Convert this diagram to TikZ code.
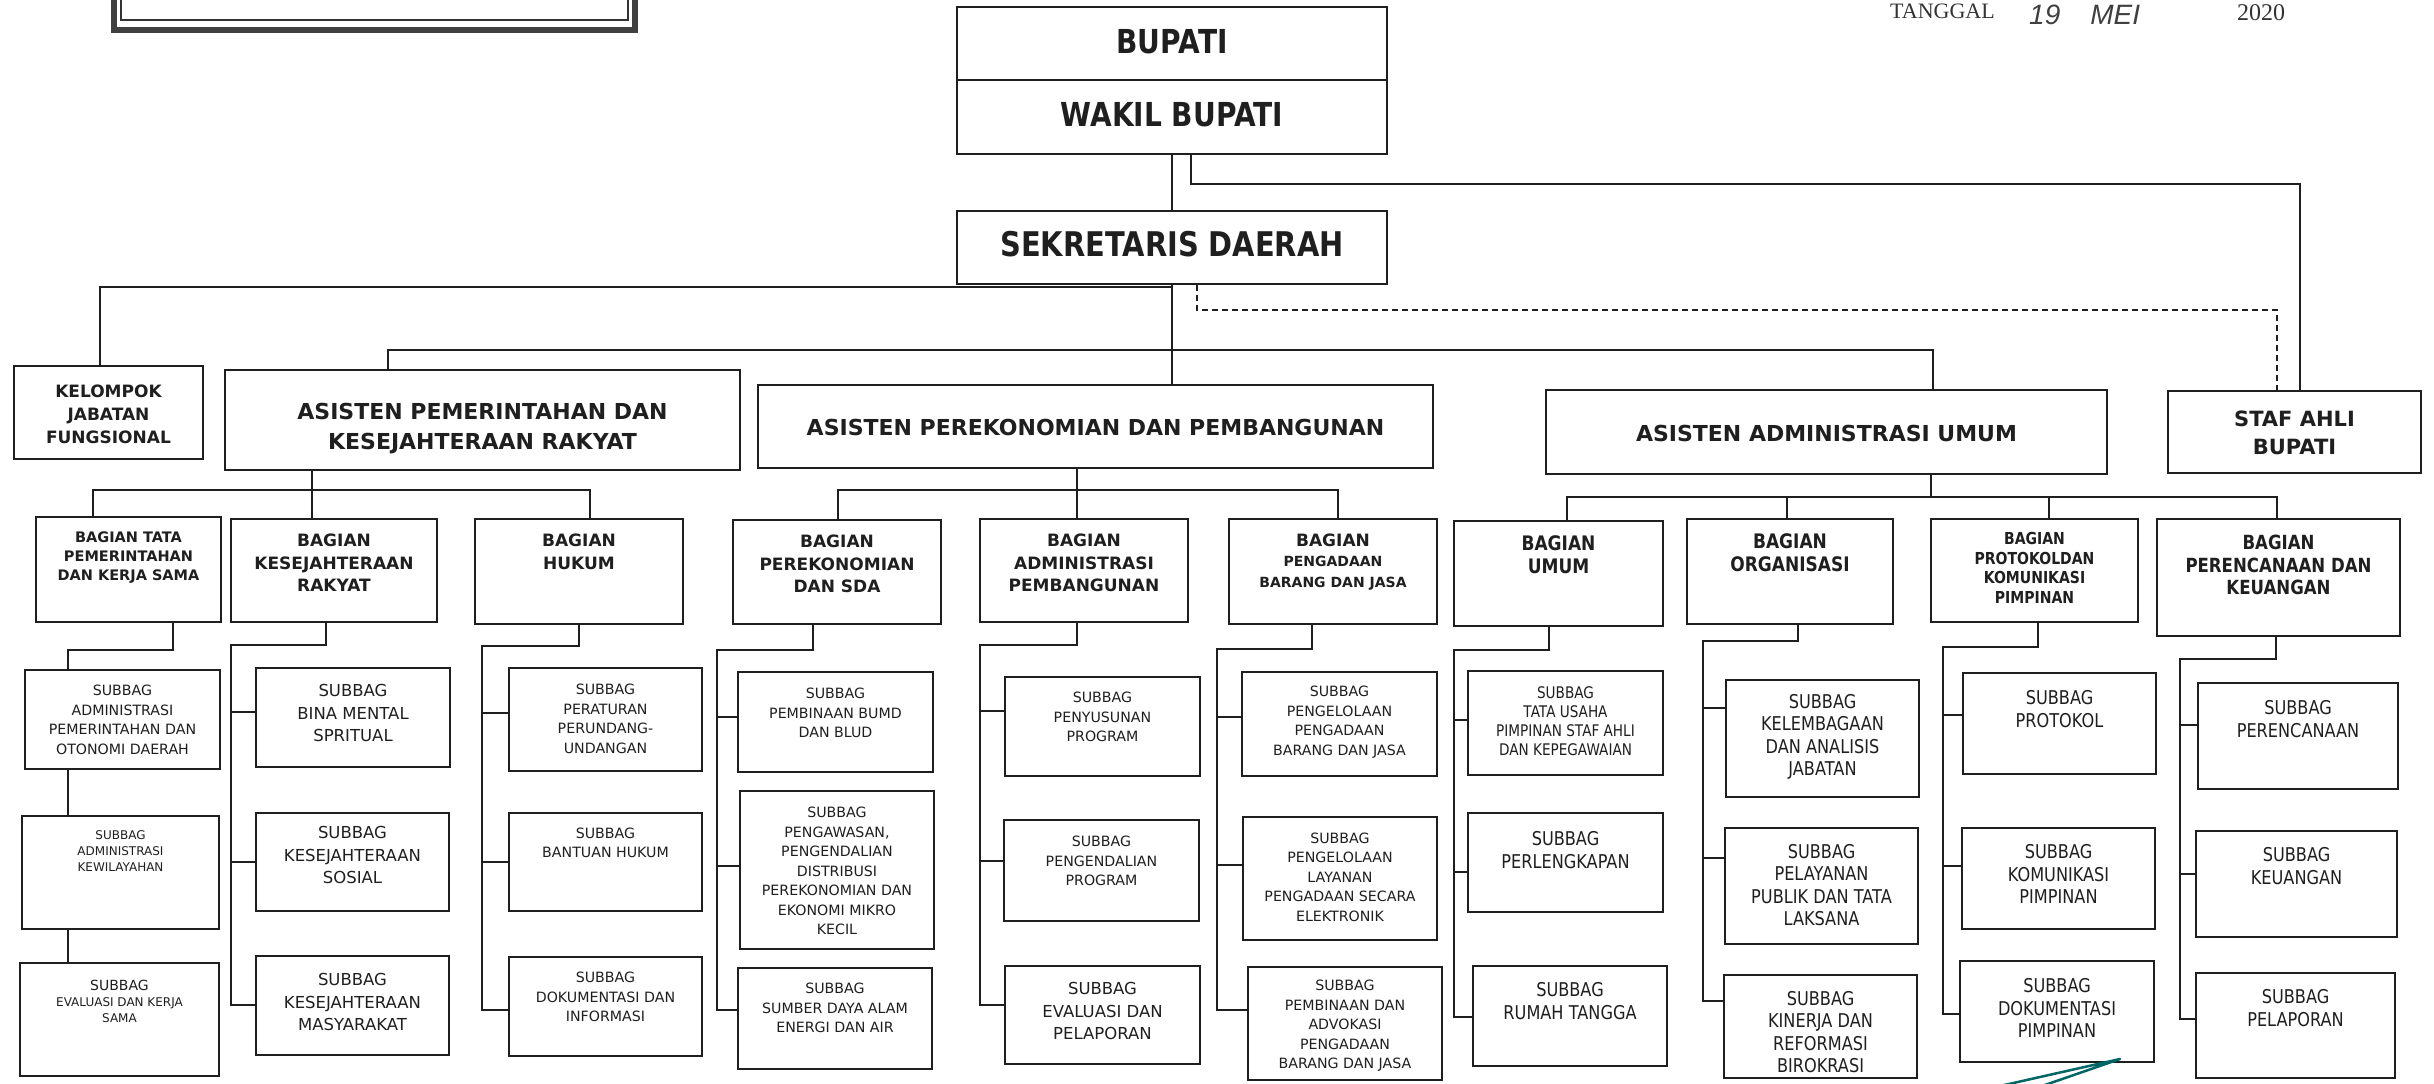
\documentclass[tikz,border=0pt]{standalone}
\usepackage{fontspec}
\setmainfont{DejaVu Sans}
\newfontfamily\condf[FakeStretch=0.85]{DejaVu Sans}
\newfontfamily\serf{Liberation Serif}
\newfontfamily\handf{Liberation Sans}
\tikzset{
  obx/.style={draw=black!88, line width=2pt, inner sep=0pt, rectangle},
  con/.style={draw=black!88, line width=1.8pt},
  dcon/.style={draw=black!88, line width=1.8pt, dash pattern=on 6pt off 4pt},
  tx/.style={align=center, inner sep=0pt, text=black!88},
  topf/.style={font=\condf\bfseries\fontsize{33}{40}\selectfont},
  sekf/.style={font=\condf\bfseries\fontsize{34}{40}\selectfont},
  kelf/.style={font=\bfseries\fontsize{17}{23}\selectfont},
  asf/.style={font=\bfseries\fontsize{22}{30}\selectfont},
  staff/.style={font=\bfseries\fontsize{21}{28}\selectfont},
  bgf/.style={font=\bfseries\fontsize{17}{22.5}\selectfont},
  bgs/.style={font=\bfseries\fontsize{14.5}{19}\selectfont},
  bgp/.style={font=\bfseries\fontsize{14}{20.5}\selectfont},
  bgc/.style={font=\condf\bfseries\fontsize{20}{23}\selectfont},
  bgcs/.style={font=\condf\bfseries\fontsize{16.5}{19.5}\selectfont},
  bgcp/.style={font=\condf\bfseries\fontsize{19.5}{22.5}\selectfont},
  sbf/.style={font=\fontsize{14.2}{19.5}\selectfont},
  sbl/.style={font=\fontsize{16.5}{22.5}\selectfont},
  sbs/.style={font=\fontsize{12}{16}\selectfont},
  sbc/.style={font=\condf\fontsize{19}{22.5}\selectfont},
  sbcs/.style={font=\condf\fontsize{16}{19}\selectfont}
}
% name, x1, y1, x2, y2, text-centre-y, text style, text
\newcommand\obox[8]{%
  \node[obx, minimum width={(#4-#2)*1pt}, minimum height={(#5-#3)*1pt}] (#1) at ({(#2+#4)/2},{(#3+#5)/2}) {};
  \node[tx,#7] (#1t) at ({(#2+#4)/2},#6) {#8};
}
% parent, drop x, bend y, trunk x, trunk end y
\newcommand\trunk[5]{%
  \coordinate (#1-j) at (#2,#3); \coordinate (#1-k) at (#4,#3); \coordinate (#1-e) at (#4,#5);
  \draw[con, line join=miter] (#1.south -| #1-j) -- (#1-j) -- (#1-k) -- (#1-e);
}
% child, trunk x, y
\newcommand\branch[3]{%
  \coordinate (#1-b) at (#2,#3); \draw[con] ([xshift=-0.9pt]#1-b) -- (#1.west |- #1-b);
}
\begin{document}
\begin{tikzpicture}[x=1pt, y=-1pt]
\useasboundingbox (0,0) rectangle (2434,1084);
\fill[white] (0,0) rectangle (2434,1084);

% decorative frame at top left
\draw[line width=6pt, black!75] (114,-40) -- (114,30) -- (635,30) -- (635,-40);
\draw[line width=2pt, black!80] (121,-40) -- (121,20) -- (628,20) -- (628,-40);

% date
\node[anchor=base west, inner sep=0pt, font=\serf\fontsize{22}{22}\selectfont, text=black!80] (tgl) at (1890,19) {TANGGAL};
\node[anchor=base west, inner sep=0pt, font=\handf\itshape\fontsize{28}{28}\selectfont, text=black!75] (tglh) at (2029,24) {19\hspace{30pt}MEI};
\node[anchor=base west, inner sep=0pt, font=\serf\fontsize{24}{24}\selectfont, text=black!80] (tgly) at (2237,20) {2020};

% top level
\obox{bupati}{957}{7}{1387}{80}{42}{topf}{BUPATI}
\obox{wakil}{957}{80}{1387}{154}{115}{topf}{WAKIL BUPATI}
\obox{sekda}{957}{211}{1387}{284}{244}{sekf}{SEKRETARIS DAERAH}

\obox{kel}{14}{366}{203}{459}{414}{kelf}{KELOMPOK\\JABATAN\\FUNGSIONAL}
\obox{asp}{225}{370}{740}{470}{429}{asf}{ASISTEN PEMERINTAHAN DAN\\KESEJAHTERAAN RAKYAT}
\obox{asper}{758}{385}{1433}{468}{427}{asf}{ASISTEN PEREKONOMIAN DAN PEMBANGUNAN}
\obox{asadm}{1546}{390}{2107}{474}{433}{asf}{ASISTEN ADMINISTRASI UMUM}
\obox{staf}{2168}{391}{2421}{473}{433}{staff}{STAF AHLI\\BUPATI}

% bagian
\obox{btp}{36}{517}{221}{622}{558}{bgs}{BAGIAN TATA\\PEMERINTAHAN\\DAN KERJA SAMA}
\obox{bkes}{231}{519}{437}{622}{563}{bgf}{BAGIAN\\KESEJAHTERAAN\\RAKYAT}
\obox{bhuk}{475}{519}{683}{624}{552}{bgf}{BAGIAN\\HUKUM}
\obox{bper}{733}{520}{941}{624}{564}{bgf}{BAGIAN\\PEREKONOMIAN\\DAN SDA}
\obox{badp}{980}{519}{1188}{622}{563}{bgf}{BAGIAN\\ADMINISTRASI\\PEMBANGUNAN}
\obox{bpbj}{1229}{519}{1437}{624}{562}{bgp}{{\fontsize{17}{20.5}\selectfont BAGIAN}\\PENGADAAN\\BARANG DAN JASA}
\obox{bumum}{1454}{521}{1663}{626}{555}{bgc}{BAGIAN\\UMUM}
\obox{borg}{1687}{519}{1893}{624}{553}{bgc}{BAGIAN\\ORGANISASI}
\obox{bprot}{1931}{519}{2138}{622}{568}{bgcs}{BAGIAN\\PROTOKOLDAN\\KOMUNIKASI\\PIMPINAN}
\obox{bpk}{2157}{519}{2400}{636}{565}{bgcp}{BAGIAN\\PERENCANAAN DAN\\KEUANGAN}

% subbag: tata pemerintahan
\obox{s11}{25}{670}{220}{769}{720}{sbf}{SUBBAG\\ADMINISTRASI\\PEMERINTAHAN DAN\\OTONOMI DAERAH}
\obox{s12}{22}{816}{219}{929}{851}{sbs}{SUBBAG\\ADMINISTRASI\\KEWILAYAHAN}
\obox{s13}{20}{963}{219}{1076}{1001}{sbs}{{\fontsize{14}{17}\selectfont SUBBAG}\\EVALUASI DAN KERJA\\SAMA}
% kesra
\obox{s21}{256}{668}{450}{767}{713}{sbl}{SUBBAG\\BINA MENTAL\\SPRITUAL}
\obox{s22}{256}{813}{449}{911}{855}{sbl}{SUBBAG\\KESEJAHTERAAN\\SOSIAL}
\obox{s23}{256}{956}{449}{1055}{1002}{sbl}{SUBBAG\\KESEJAHTERAAN\\MASYARAKAT}
% hukum
\obox{s31}{509}{668}{702}{771}{719}{sbf}{SUBBAG\\PERATURAN\\PERUNDANG-\\UNDANGAN}
\obox{s32}{509}{813}{702}{911}{843}{sbf}{SUBBAG\\BANTUAN HUKUM}
\obox{s33}{509}{957}{702}{1056}{997}{sbf}{SUBBAG\\DOKUMENTASI DAN\\INFORMASI}
% perekonomian
\obox{s41}{738}{672}{933}{772}{713}{sbf}{SUBBAG\\PEMBINAAN BUMD\\DAN BLUD}
\obox{s42}{740}{791}{934}{949}{871}{sbf}{SUBBAG\\PENGAWASAN,\\PENGENDALIAN\\DISTRIBUSI\\PEREKONOMIAN DAN\\EKONOMI MIKRO\\KECIL}
\obox{s43}{738}{968}{932}{1069}{1008}{sbf}{SUBBAG\\SUMBER DAYA ALAM\\ENERGI DAN AIR}
% administrasi pembangunan
\obox{s51}{1005}{677}{1200}{776}{717}{sbf}{SUBBAG\\PENYUSUNAN\\PROGRAM}
\obox{s52}{1004}{820}{1199}{921}{861}{sbf}{SUBBAG\\PENGENDALIAN\\PROGRAM}
\obox{s53}{1005}{966}{1200}{1064}{1011}{sbl}{SUBBAG\\EVALUASI DAN\\PELAPORAN}
% pengadaan
\obox{s61}{1242}{672}{1437}{776}{722}{sbf}{SUBBAG\\PENGELOLAAN\\PENGADAAN\\BARANG DAN JASA}
\obox{s62}{1243}{817}{1437}{940}{877}{sbf}{SUBBAG\\PENGELOLAAN\\LAYANAN\\PENGADAAN SECARA\\ELEKTRONIK}
\obox{s63}{1248}{967}{1442}{1080}{1026}{sbf}{SUBBAG\\PEMBINAAN DAN\\ADVOKASI\\PENGADAAN\\BARANG DAN JASA}
% umum
\obox{s71}{1468}{671}{1663}{775}{721}{sbcs}{SUBBAG\\TATA USAHA\\PIMPINAN STAF AHLI\\DAN KEPEGAWAIAN}
\obox{s72}{1468}{813}{1663}{912}{850}{sbc}{SUBBAG\\PERLENGKAPAN}
\obox{s73}{1473}{966}{1667}{1066}{1001}{sbc}{SUBBAG\\RUMAH TANGGA}
% organisasi
\obox{s81}{1726}{680}{1919}{797}{737}{sbc}{SUBBAG\\KELEMBAGAAN\\DAN ANALISIS\\JABATAN}
\obox{s82}{1725}{828}{1918}{944}{885}{sbc}{SUBBAG\\PELAYANAN\\PUBLIK DAN TATA\\LAKSANA}
\obox{s83}{1724}{975}{1917}{1078}{1032}{sbc}{SUBBAG\\KINERJA DAN\\REFORMASI\\BIROKRASI}
% protokol
\obox{s91}{1963}{673}{2156}{774}{709}{sbc}{SUBBAG\\PROTOKOL}
\obox{s92}{1962}{828}{2155}{929}{874}{sbc}{SUBBAG\\KOMUNIKASI\\PIMPINAN}
\obox{s93}{1960}{961}{2154}{1062}{1008}{sbc}{SUBBAG\\DOKUMENTASI\\PIMPINAN}
% perencanaan
\obox{s101}{2198}{683}{2398}{789}{719}{sbc}{SUBBAG\\PERENCANAAN}
\obox{s102}{2196}{831}{2397}{937}{866}{sbc}{SUBBAG\\KEUANGAN}
\obox{s103}{2196}{973}{2395}{1078}{1008}{sbc}{SUBBAG\\PELAPORAN}

% ---------- connectors: top ----------
\draw[con] (wakil.south -| sekda.north) -- (sekda.north);
\draw[con] (sekda.south) -- (asper.north -| sekda.south);
\coordinate (st1) at (1191,184); \coordinate (st2) at (2300,184);
\draw[con] (wakil.south -| st1) -- (st1) -- (st2) -- (staf.north -| st2);
\coordinate (ds1) at (1197,310); \coordinate (ds2) at (2277,310);
\draw[dcon] (sekda.south -| ds1) -- (ds1) -- (ds2) -- (staf.north -| ds2);
\coordinate (kj) at (1172,287); \coordinate (kk) at (100,287);
\draw[con] (kj) -- (kk) -- (kel.north -| kk);
\coordinate (aj1) at (388,350); \coordinate (aj2) at (1933,350);
\draw[con] (asp.north -| aj1) -- (aj1) -- (aj2) -- (asadm.north -| aj2);

% ---------- asisten -> bagian ----------
\coordinate (apj) at (312,490); \coordinate (apL) at (93,490); \coordinate (apR) at (590,490);
\draw[con] (asp.south -| apj) -- (bkes.north -| apj);
\draw[con] (btp.north -| apL) -- (apL) -- (apR) -- (bhuk.north -| apR);

\coordinate (epj) at (1077,490); \coordinate (epL) at (838,490); \coordinate (epR) at (1338,490);
\draw[con] (asper.south -| epj) -- (badp.north -| epj);
\draw[con] (bper.north -| epL) -- (epL) -- (epR) -- (bpbj.north -| epR);

\coordinate (adj) at (1931,497); \coordinate (adL) at (1567,497); \coordinate (adR) at (2277,497);
\coordinate (adO) at (1787,497); \coordinate (adP) at (2049,497);
\draw[con] (asadm.south -| adj) -- (adj);
\draw[con] (bumum.north -| adL) -- (adL) -- (adR) -- (bpk.north -| adR);
\draw[con] (adO) -- (borg.north -| adO);
\draw[con] (adP) -- (bprot.north -| adP);

% ---------- bagian -> subbag ----------
\coordinate (tp-j) at (173,650); \coordinate (tp-k) at (68,650);
\draw[con] (btp.south -| tp-j) -- (tp-j) -- (tp-k) -- (s11.north -| tp-k);
\draw[con] (s11.south -| tp-k) -- (s12.north -| tp-k);
\draw[con] (s12.south -| tp-k) -- (s13.north -| tp-k);

\trunk{bkes}{326}{645}{231}{1005}
\branch{s21}{231}{712} \branch{s22}{231}{862} \branch{s23}{231}{1005}

\trunk{bhuk}{579}{646}{482}{1010}
\branch{s31}{482}{713} \branch{s32}{482}{862} \branch{s33}{482}{1010}

\trunk{bper}{813}{650}{717}{1010}
\branch{s41}{717}{717} \branch{s42}{717}{866} \branch{s43}{717}{1010}

\trunk{badp}{1077}{645}{980}{1005}
\branch{s51}{980}{711} \branch{s52}{980}{861} \branch{s53}{980}{1005}

\trunk{bpbj}{1312}{649}{1217}{1010}
\branch{s61}{1217}{717} \branch{s62}{1217}{865} \branch{s63}{1217}{1010}

\trunk{bumum}{1549}{650}{1454}{1017}
\branch{s71}{1454}{720} \branch{s72}{1454}{872} \branch{s73}{1454}{1017}

\trunk{borg}{1798}{641}{1703}{1001}
\branch{s81}{1703}{708} \branch{s82}{1703}{858} \branch{s83}{1703}{1001}

\trunk{bprot}{2038}{647}{1943}{1014}
\branch{s91}{1943}{715} \branch{s92}{1943}{866} \branch{s93}{1943}{1014}

\trunk{bpk}{2276}{659}{2180}{1019}
\branch{s101}{2180}{725} \branch{s102}{2180}{874} \branch{s103}{2180}{1019}

% pen stroke at the bottom
\draw[line width=2.5pt, color=teal!80!black, line join=round, line cap=round] (2000,1086) -- (2120,1059) -- (2042,1086);
\end{tikzpicture}
\end{document}
